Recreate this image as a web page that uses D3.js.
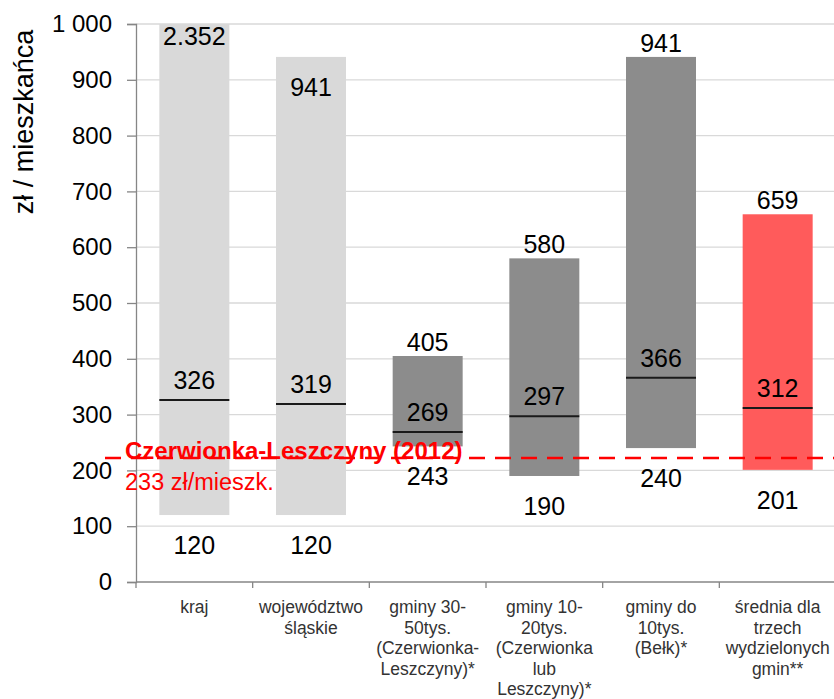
<!DOCTYPE html>
<html><head><meta charset="utf-8">
<script src="https://cdn.jsdelivr.net/npm/d3@7"></script>
<style>body{margin:0;background:#fff;}svg{display:block;font-family:"Liberation Sans",Arial,sans-serif;}</style>
</head><body>
<svg id="c" width="834" height="699"></svg>
<script>
const categories = [
  ["kraj"],
  ["województwo","śląskie"],
  ["gminy 30-","50tys.","(Czerwionka-","Leszczyny)*"],
  ["gminy 10-","20tys.","(Czerwionka","lub","Leszczyny)*"],
  ["gminy do","10tys.","(Bełk)*"],
  ["średnia dla","trzech","wydzielonych","gmin**"]
];
const minValues = [120, 120, 243, 190, 240, 201];
const maxValues = [2352, 941, 405, 580, 941, 659];
const maxLabels = ["2.352", "941", "405", "580", "941", "659"];
const medianValues = [326, 319, 269, 297, 366, 312];
const barKinds = ["light", "light", "dark", "dark", "dark", "red"];
const refLineValue = 222;
const refLabel1 = "Czerwionka-Leszczyny (2012)";
const refLabel2 = "233 zł/mieszk.";
const yTicks = [0,100,200,300,400,500,600,700,800,900,1000];
const yTitle = "zł / mieszkańca";

(function(){
const colors = {light:"#d9d9d9", dark:"#8c8c8c", red:"#ff5b5b"};
const svg = d3.select("#c");
const mL = 136, mR = 836, mT = 24, mB = 582;
const x = d3.scaleBand().domain(d3.range(categories.length)).range([mL, mR]).paddingInner(0.4).paddingOuter(0.2);
const y = d3.scaleLinear().domain([0, 1000]).range([mB, mT]);
const fmt = v => v >= 1000 ? d3.format(",")(v).replace(",", " ") : String(v);

svg.append("g").selectAll("line").data(yTicks.filter(d=>d>0)).join("line")
  .attr("x1", mL).attr("x2", 834).attr("y1", d=>y(d)).attr("y2", d=>y(d))
  .attr("stroke", "#d9d9d9").attr("stroke-width", 1.3);

const ya = svg.append("g").attr("transform", `translate(${mL},0)`)
  .call(d3.axisLeft(y).tickValues(yTicks).tickSize(9).tickPadding(15).tickFormat(fmt));
ya.select(".domain").attr("stroke", "#868686").attr("stroke-width", 1.3);
ya.selectAll(".tick line").attr("stroke", "#868686").attr("stroke-width", 1.3);
ya.selectAll(".tick text").attr("font-size", 24).attr("fill", "#000").attr("font-family", "Liberation Sans, Arial, sans-serif");

const bw = x.step();
svg.append("line").attr("x1", mL).attr("x2", 834).attr("y1", mB).attr("y2", mB)
  .attr("stroke", "#868686").attr("stroke-width", 1.3);
svg.append("g").selectAll("line").data(d3.range(categories.length + 1)).join("line")
  .attr("x1", i => mL + i*bw).attr("x2", i => mL + i*bw)
  .attr("y1", mB).attr("y2", mB + 6).attr("stroke", "#868686").attr("stroke-width", 1.3);

categories.forEach((lines, i) => {
  const cx = x(i) + x.bandwidth()/2;
  const t = svg.append("text").attr("x", cx).attr("y", 613).attr("text-anchor", "middle")
    .attr("font-size", 17.5).attr("fill", "#333");
  lines.forEach((l, j) => t.append("tspan").attr("x", cx).attr("dy", j===0?0:20.5).text(l));
});

const idx = d3.range(categories.length);
svg.append("g").selectAll("rect").data(idx).join("rect")
  .attr("x", i => x(i)).attr("width", x.bandwidth())
  .attr("y", i => y(Math.min(maxValues[i], 1000)))
  .attr("height", i => y(minValues[i]) - y(Math.min(maxValues[i], 1000)))
  .attr("fill", i => colors[barKinds[i]]);

svg.append("g").selectAll("line").data(idx).join("line")
  .attr("x1", i => x(i)).attr("x2", i => x(i) + x.bandwidth())
  .attr("y1", i => y(medianValues[i])).attr("y2", i => y(medianValues[i]))
  .attr("stroke", "#1a1a1a").attr("stroke-width", 2);

const lab = svg.append("g").attr("font-size", 25).attr("fill", "#000").attr("text-anchor", "middle");
idx.forEach(i => {
  const cx = x(i) + x.bandwidth()/2;
  const topY = y(Math.min(maxValues[i], 1000));
  let ty;
  if (maxValues[i] > 1000) ty = topY + 21;
  else if (barKinds[i] === "light") ty = topY + 39;
  else ty = topY - 5;
  lab.append("text").attr("x", cx).attr("y", ty).text(maxLabels[i]);
  lab.append("text").attr("x", cx).attr("y", y(medianValues[i]) - 11).text(medianValues[i]);
  lab.append("text").attr("x", cx).attr("y", y(minValues[i]) + 39).text(minValues[i]);
});

svg.append("text").attr("x", 125).attr("y", 459).attr("font-size", 24).attr("font-weight", "bold").attr("fill", "#ff0000").text(refLabel1);
svg.append("text").attr("x", 125).attr("y", 490).attr("font-size", 23.5).attr("fill", "#ff0000").text(refLabel2);
svg.append("line").attr("x1", 105).attr("x2", 834).attr("y1", y(refLineValue)).attr("y2", y(refLineValue))
  .attr("stroke", "#ff0000").attr("stroke-width", 2.5).attr("stroke-dasharray", "16,10");

svg.append("text").attr("transform", "translate(33,122) rotate(-90)").attr("text-anchor", "middle")
  .attr("font-size", 27).attr("fill", "#000").text(yTitle);
})();
</script>
</body></html>
